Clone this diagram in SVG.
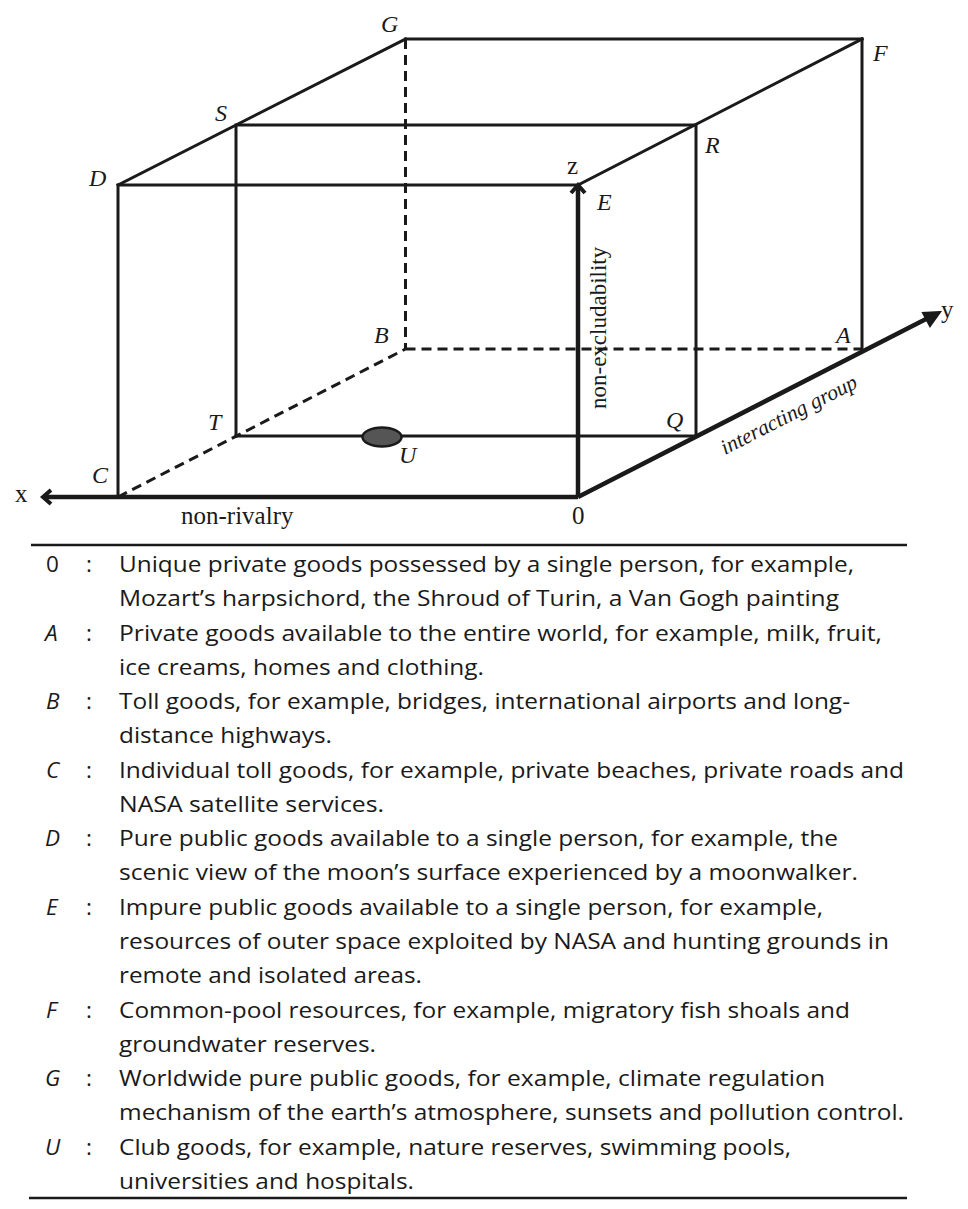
<svg xmlns="http://www.w3.org/2000/svg" width="968" height="1209" viewBox="0 0 968 1209">
<style>
.e{stroke:#1a1a1a;stroke-width:3;fill:none;stroke-linecap:square}
.d{stroke:#1a1a1a;stroke-width:3;fill:none;stroke-dasharray:10 6}
.ax{stroke:#1a1a1a;stroke-width:4.5;fill:none}
.lb{font-family:"Liberation Serif",serif;font-style:italic;font-size:24px;fill:#1a1a1a}
.rg{font-family:"Liberation Serif",serif;font-size:25px;fill:#1a1a1a}
.lg{font-family:"Open Sans",Lato,sans-serif;font-size:22.5px;fill:#1a1a1a;font-variant-ligatures:none}
.lgi{font-family:"Open Sans",Lato,sans-serif;font-size:22.5px;font-style:italic;fill:#1a1a1a}
.rule{stroke:#1a1a1a;stroke-width:2.5}
</style>
<rect width="968" height="1209" fill="#fff"/>
<g id="connectors">
  <line class="d" x1="405.5" y1="39" x2="405.5" y2="349"/>
  <line class="d" x1="405.5" y1="349" x2="862" y2="349"/>
  <line class="d" x1="118" y1="497" x2="405.5" y2="349"/>
  <polyline class="e" points="118,497 118,185 578,185"/>
  <line class="e" x1="118" y1="185" x2="405.5" y2="39"/>
  <line class="e" x1="405.5" y1="39" x2="862" y2="39"/>
  <line class="e" x1="578" y1="185" x2="862" y2="39"/>
  <line class="e" x1="862" y1="39" x2="862" y2="350"/>
  <polyline class="e" points="236,436 236,125 696,125 696,436"/>
  <line class="e" x1="236" y1="436" x2="696" y2="436"/>
  <line class="ax" x1="578" y1="497" x2="45" y2="497"/>
  <path d="M51,490 L43,497 L51,504" class="ax" style="stroke-width:4"/>
  <line class="ax" x1="578" y1="497" x2="578" y2="188"/>
  <path d="M571,193 L578,185 L585,193" class="ax" style="stroke-width:4"/>
  <line class="ax" x1="578" y1="497" x2="928" y2="318"/>
  <path d="M940,312 L923,313 L930,326 Z" fill="#1a1a1a" stroke="#1a1a1a" stroke-width="2"/>
</g>
<g id="node-U">
  <ellipse cx="382" cy="437" rx="19.5" ry="9.5" fill="#555" stroke="#1a1a1a" stroke-width="2.5"/>
  <text class="lb" x="399" y="463">U</text>
</g>
<g id="node-G"><text class="lb" x="381" y="32">G</text></g>
<g id="node-S"><text class="lb" x="215" y="121">S</text></g>
<g id="node-D"><text class="lb" x="89" y="186">D</text></g>
<g id="node-F"><text class="lb" x="873" y="61">F</text></g>
<g id="node-R"><text class="lb" x="705" y="153">R</text></g>
<g id="node-E"><text class="lb" x="597" y="210">E</text></g>
<g id="node-B"><text class="lb" x="374" y="343">B</text></g>
<g id="node-A"><text class="lb" x="836" y="343">A</text></g>
<g id="node-T"><text class="lb" x="208" y="430">T</text></g>
<g id="node-Q"><text class="lb" x="666" y="428">Q</text></g>
<g id="node-C"><text class="lb" x="92" y="483">C</text></g>
<g id="node-O"><text class="rg" x="572" y="524">0</text></g>
<g id="axis-labels">
  <text class="rg" x="15" y="502">x</text>
  <text class="rg" x="567" y="174">z</text>
  <text class="rg" x="941" y="318">y</text>
  <text class="rg" x="181" y="524">non-rivalry</text>
  <text class="rg" style="font-size:23px" transform="translate(606,409) rotate(-90)">non-excludability</text>
  <text class="rg" style="font-size:21.5px;font-style:italic" transform="translate(725,455) rotate(-27)">interacting group</text>
</g>
<g id="legend">
  <line class="rule" x1="31" y1="545" x2="907" y2="545"/>
  <line class="rule" x1="29" y1="1198" x2="907" y2="1198"/>
  <g class="lg">
    <text x="46" y="572">0</text><text x="86" y="572">:</text>
    <text x="119" y="572" textLength="735" lengthAdjust="spacingAndGlyphs">Unique private goods possessed by a single person, for example,</text>
    <text x="119" y="606" textLength="720" lengthAdjust="spacingAndGlyphs">Mozart’s harpsichord, the Shroud of Turin, a Van Gogh painting</text>
    <text x="86" y="641">:</text>
    <text x="119" y="641" textLength="763" lengthAdjust="spacingAndGlyphs">Private goods available to the entire world, for example, milk, fruit,</text>
    <text x="119" y="675" textLength="365" lengthAdjust="spacingAndGlyphs">ice creams, homes and clothing.</text>
    <text x="86" y="709">:</text>
    <text x="119" y="709" textLength="731" lengthAdjust="spacingAndGlyphs">Toll goods, for example, bridges, international airports and long-</text>
    <text x="119" y="743" textLength="213" lengthAdjust="spacingAndGlyphs">distance highways.</text>
    <text x="86" y="778">:</text>
    <text x="119" y="778" textLength="785" lengthAdjust="spacingAndGlyphs">Individual toll goods, for example, private beaches, private roads and</text>
    <text x="119" y="812" textLength="265" lengthAdjust="spacingAndGlyphs">NASA satellite services.</text>
    <text x="86" y="846">:</text>
    <text x="119" y="846" textLength="719" lengthAdjust="spacingAndGlyphs">Pure public goods available to a single person, for example, the</text>
    <text x="119" y="880" textLength="739" lengthAdjust="spacingAndGlyphs">scenic view of the moon’s surface experienced by a moonwalker.</text>
    <text x="86" y="915">:</text>
    <text x="119" y="915" textLength="704" lengthAdjust="spacingAndGlyphs">Impure public goods available to a single person, for example,</text>
    <text x="119" y="949" textLength="770" lengthAdjust="spacingAndGlyphs">resources of outer space exploited by NASA and hunting grounds in</text>
    <text x="119" y="983" textLength="303" lengthAdjust="spacingAndGlyphs">remote and isolated areas.</text>
    <text x="86" y="1018">:</text>
    <text x="119" y="1018" textLength="731" lengthAdjust="spacingAndGlyphs">Common-pool resources, for example, migratory fish shoals and</text>
    <text x="119" y="1052" textLength="257" lengthAdjust="spacingAndGlyphs">groundwater reserves.</text>
    <text x="86" y="1086">:</text>
    <text x="119" y="1086" textLength="706" lengthAdjust="spacingAndGlyphs">Worldwide pure public goods, for example, climate regulation</text>
    <text x="119" y="1120" textLength="785" lengthAdjust="spacingAndGlyphs">mechanism of the earth’s atmosphere, sunsets and pollution control.</text>
    <text x="86" y="1155">:</text>
    <text x="119" y="1155" textLength="672" lengthAdjust="spacingAndGlyphs">Club goods, for example, nature reserves, swimming pools,</text>
    <text x="119" y="1189" textLength="295" lengthAdjust="spacingAndGlyphs">universities and hospitals.</text>
  </g>
  <g class="lgi">
    <text x="45" y="641">A</text>
    <text x="46" y="709">B</text>
    <text x="46" y="778">C</text>
    <text x="45" y="846">D</text>
    <text x="46" y="915">E</text>
    <text x="46" y="1018">F</text>
    <text x="45" y="1086">G</text>
    <text x="45" y="1155">U</text>
  </g>
</g>
</svg>
